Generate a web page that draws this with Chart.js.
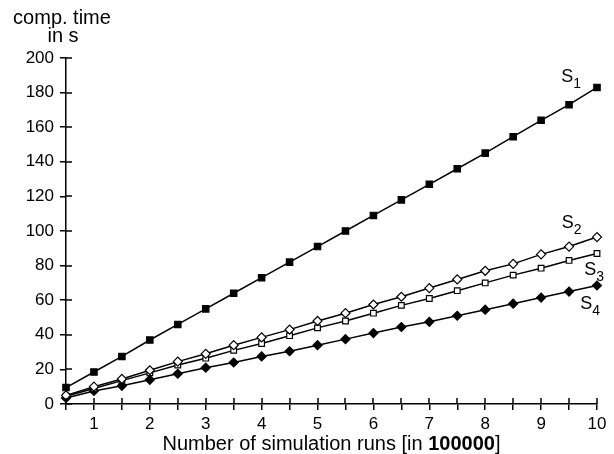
<!DOCTYPE html>
<html>
<head>
<meta charset="utf-8">
<script src="https://cdn.jsdelivr.net/npm/chart.js@4/dist/chart.umd.min.js"></script>
<style>
html,body{margin:0;padding:0;background:#fff;}
#wrap{width:614px;height:454px;position:relative;}
</style>
</head>
<body>
<div id="wrap"><canvas id="c" width="614" height="454"></canvas></div>
<script>
const runs = [0.5,1,1.5,2,2.5,3,3.5,4,4.5,5,5.5,6,6.5,7,7.5,8,8.5,9,9.5,10];
const s1 = [9.5,18.5,27.5,37,46,55,64,73,82,91,100,109,118,127,136,145,154.5,164,173,183];
const s2 = [5,10,14.5,19.5,24.5,29,34,38.5,43,48,52.5,57.5,62,67,72,77,81,86.5,91,96.5];
const s3 = [4.5,9,13.5,18,22.5,26.5,31,35,39.5,44,48,52.5,57,61,65.5,70,74.5,78.5,83,87];
const s4 = [3.5,7.5,10.5,14,17.5,21,24,27.5,30.5,34,37.5,41,44.5,47.5,51,54.5,58,61.5,65,68.5];
const seriesNames = ['1','2','3','4'];
const labelAnchors = [[9.36,186],[9.37,101.5],[9.77,74.5],[9.7,55]];
const yTitle = ['comp. time','in s'];
const xTitleParts = ['Number of simulation runs [in ', '100000', ']'];

const FONT = '"Liberation Sans", Arial, Helvetica, sans-serif';

function mk(data, style, fill, r){
  return {
    data: runs.map((x,i)=>({x:x,y:data[i]})),
    borderColor:'#000', borderWidth:1.5,
    pointStyle:style, pointRadius:r, pointHoverRadius:r,
    pointBackgroundColor:fill, pointBorderColor:'#000', pointBorderWidth:1.2,
    tension:0, fill:false, clip:false
  };
}

const deco = {
  id:'deco',
  afterDraw(chart){
    const ctx = chart.ctx;
    const xs = chart.scales.x, ys = chart.scales.y;
    const ca = chart.chartArea;
    ctx.save();
    ctx.strokeStyle = '#000'; ctx.lineWidth = 1.5;
    ys.ticks.forEach(t=>{
      const py = Math.round(ys.getPixelForValue(t.value));
      ctx.beginPath(); ctx.moveTo(ca.left, py); ctx.lineTo(ca.left+6, py); ctx.stroke();
    });
    xs.ticks.forEach(t=>{
      const px = Math.round(xs.getPixelForValue(t.value));
      ctx.beginPath(); ctx.moveTo(px, ca.bottom); ctx.lineTo(px, ca.bottom-6); ctx.stroke();
    });
    ctx.fillStyle = '#000';
    ctx.font = '20px ' + FONT;
    ctx.textAlign = 'center'; ctx.textBaseline = 'alphabetic';
    ctx.fillText(yTitle[0], 62, 24);
    ctx.fillText(yTitle[1], 63, 42);
    const fN = '20px ' + FONT, fB = 'bold 20px ' + FONT;
    ctx.font = fN; const w0 = ctx.measureText(xTitleParts[0]).width;
    ctx.font = fB; const w1 = ctx.measureText(xTitleParts[1]).width;
    ctx.font = fN; const w2 = ctx.measureText(xTitleParts[2]).width;
    const total = w0+w1+w2;
    let sx = (ca.left+ca.right)/2 - total/2;
    const by = 450;
    ctx.textAlign = 'left';
    ctx.font = fN; ctx.fillText(xTitleParts[0], sx, by); sx += w0;
    ctx.font = fB; ctx.fillText(xTitleParts[1], sx, by); sx += w1;
    ctx.font = fN; ctx.fillText(xTitleParts[2], sx, by);
    labelAnchors.forEach((a,i)=>{
      const px = xs.getPixelForValue(a[0]);
      const py = ys.getPixelForValue(a[1]);
      ctx.font = '18px ' + FONT;
      ctx.textAlign = 'left';
      ctx.fillText('S', px, py);
      const ws = ctx.measureText('S').width;
      ctx.font = '14px ' + FONT;
      ctx.fillText(seriesNames[i], px+ws, py+6);
    });
    ctx.restore();
  }
};

new Chart(document.getElementById('c'), {
  type:'line',
  data:{ datasets:[ mk(s1,'rect','#000',4.5), mk(s2,'rectRot','#fff',4.5), mk(s3,'rect','#fff',4), mk(s4,'rectRot','#000',4.5) ] },
  options:{
    responsive:false, animation:false,
    layout:{ padding:{ top:58, right:17, left:0, bottom:0 } },
    plugins:{ legend:{display:false}, tooltip:{enabled:false}, title:{display:false} },
    scales:{
      x:{
        type:'linear', min:0.5, max:10,
        afterFit(s){ s.height = 50; },
        ticks:{ stepSize:0.5, autoSkip:false, maxRotation:0, padding:4, color:'#000',
          font:{ family:FONT, size:17 },
          callback:(v)=> Number.isInteger(v) ? String(v) : '' },
        grid:{ display:true, drawOnChartArea:false, drawTicks:true, tickLength:6, color:'#000', lineWidth:1.5 },
        border:{ display:true, color:'#000', width:1.5 }
      },
      y:{
        min:0, max:200,
        afterFit(s){ s.width = 66; },
        ticks:{ stepSize:20, padding:6, color:'#000', font:{ family:FONT, size:17 } },
        grid:{ display:true, drawOnChartArea:false, drawTicks:true, tickLength:6, color:'#000', lineWidth:1.5 },
        border:{ display:true, color:'#000', width:1.5 }
      }
    }
  },
  plugins:[deco]
});
</script>
</body>
</html>
